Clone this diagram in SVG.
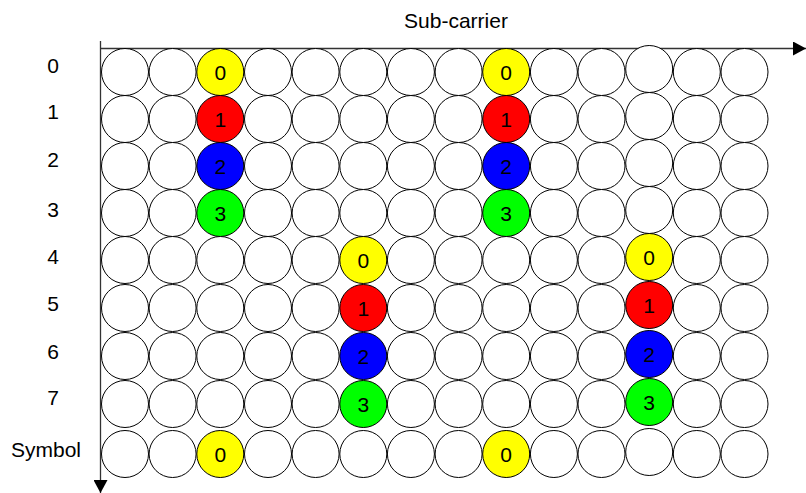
<svg xmlns="http://www.w3.org/2000/svg" width="806" height="493" viewBox="0 0 806 493">
<style>
.c{fill:#fff;stroke:#000;stroke-width:1}
.y{fill:#ffff00;stroke:#000;stroke-width:1}
.r{fill:#ff0000;stroke:#000;stroke-width:1}
.b{fill:#0000ff;stroke:#000;stroke-width:1}
.g{fill:#00ff00;stroke:#000;stroke-width:1}
text{font-family:"Liberation Sans",Arial,sans-serif;font-size:21px;fill:#000}
.m{text-anchor:middle}
.ax{stroke:#333;stroke-width:1.3;fill:none}
</style>
<defs>
<marker id="ah" viewBox="0 0 13 14" refX="13" refY="7" markerWidth="13" markerHeight="14" markerUnits="userSpaceOnUse" orient="auto">
<path d="M0,0 L13,7 L0,14 Z" fill="#000"/>
</marker>
</defs>
<g id="labels">
<text class="m" x="456" y="27.5">Sub-carrier</text>
<text class="m" x="53" y="72.5">0</text>
<text class="m" x="53" y="119">1</text>
<text class="m" x="53" y="167">2</text>
<text class="m" x="53" y="217">3</text>
<text class="m" x="53" y="264">4</text>
<text class="m" x="53" y="311">5</text>
<text class="m" x="53" y="359">6</text>
<text class="m" x="53" y="405">7</text>
<text class="m" x="46" y="456.5">Symbol</text>
</g>
<g id="connectors">
<line class="ax" x1="100" y1="48.5" x2="806" y2="48.5" marker-end="url(#ah)"/>
<line class="ax" x1="100.5" y1="41" x2="100.5" y2="493" marker-end="url(#ah)"/>
</g>
<g id="grid">
<g id="r0">
<circle class="c" cx="125" cy="72" r="23.5"/><circle class="c" cx="172.6" cy="72" r="23.5"/>
<g id="n-0-3"><circle class="y" cx="220.3" cy="72" r="23.5"/><text class="m" x="220.3" y="79.5">0</text></g>
<circle class="c" cx="268" cy="72" r="23.5"/><circle class="c" cx="315.6" cy="72" r="23.5"/><circle class="c" cx="363.3" cy="72" r="23.5"/><circle class="c" cx="410.9" cy="72" r="23.5"/><circle class="c" cx="458.6" cy="72" r="23.5"/>
<g id="n-0-9"><circle class="y" cx="506.2" cy="72" r="23.5"/><text class="m" x="506.2" y="79.5">0</text></g>
<circle class="c" cx="553.9" cy="72" r="23.5"/><circle class="c" cx="601.5" cy="72" r="23.5"/><circle class="c" cx="649.2" cy="69" r="23.5"/><circle class="c" cx="696.8" cy="72" r="23.5"/><circle class="c" cx="744.5" cy="72" r="23.5"/>
</g>
<g id="r1">
<circle class="c" cx="125" cy="119" r="23.5"/><circle class="c" cx="172.6" cy="119" r="23.5"/>
<g id="n-1-3"><circle class="r" cx="220.3" cy="119" r="23.5"/><text class="m" x="220.3" y="126.5">1</text></g>
<circle class="c" cx="268" cy="119" r="23.5"/><circle class="c" cx="315.6" cy="119" r="23.5"/><circle class="c" cx="363.3" cy="119" r="23.5"/><circle class="c" cx="410.9" cy="119" r="23.5"/><circle class="c" cx="458.6" cy="119" r="23.5"/>
<g id="n-1-9"><circle class="r" cx="506.2" cy="119" r="23.5"/><text class="m" x="506.2" y="126.5">1</text></g>
<circle class="c" cx="553.9" cy="119" r="23.5"/><circle class="c" cx="601.5" cy="119" r="23.5"/><circle class="c" cx="649.2" cy="116" r="23.5"/><circle class="c" cx="696.8" cy="119" r="23.5"/><circle class="c" cx="744.5" cy="119" r="23.5"/>
</g>
<g id="r2">
<circle class="c" cx="125" cy="166" r="23.5"/><circle class="c" cx="172.6" cy="166" r="23.5"/>
<g id="n-2-3"><circle class="b" cx="220.3" cy="166" r="23.5"/><text class="m" x="220.3" y="173.5">2</text></g>
<circle class="c" cx="268" cy="166" r="23.5"/><circle class="c" cx="315.6" cy="166" r="23.5"/><circle class="c" cx="363.3" cy="166" r="23.5"/><circle class="c" cx="410.9" cy="166" r="23.5"/><circle class="c" cx="458.6" cy="166" r="23.5"/>
<g id="n-2-9"><circle class="b" cx="506.2" cy="166" r="23.5"/><text class="m" x="506.2" y="173.5">2</text></g>
<circle class="c" cx="553.9" cy="166" r="23.5"/><circle class="c" cx="601.5" cy="166" r="23.5"/><circle class="c" cx="649.2" cy="163" r="23.5"/><circle class="c" cx="696.8" cy="166" r="23.5"/><circle class="c" cx="744.5" cy="166" r="23.5"/>
</g>
<g id="r3">
<circle class="c" cx="125" cy="213" r="23.5"/><circle class="c" cx="172.6" cy="213" r="23.5"/>
<g id="n-3-3"><circle class="g" cx="220.3" cy="213" r="23.5"/><text class="m" x="220.3" y="220.5">3</text></g>
<circle class="c" cx="268" cy="213" r="23.5"/><circle class="c" cx="315.6" cy="213" r="23.5"/><circle class="c" cx="363.3" cy="213" r="23.5"/><circle class="c" cx="410.9" cy="213" r="23.5"/><circle class="c" cx="458.6" cy="213" r="23.5"/>
<g id="n-3-9"><circle class="g" cx="506.2" cy="213" r="23.5"/><text class="m" x="506.2" y="220.5">3</text></g>
<circle class="c" cx="553.9" cy="213" r="23.5"/><circle class="c" cx="601.5" cy="213" r="23.5"/><circle class="c" cx="649.2" cy="210" r="23.5"/><circle class="c" cx="696.8" cy="213" r="23.5"/><circle class="c" cx="744.5" cy="213" r="23.5"/>
</g>
<g id="r4">
<circle class="c" cx="125" cy="260" r="23.5"/><circle class="c" cx="172.6" cy="260" r="23.5"/><circle class="c" cx="220.3" cy="260" r="23.5"/><circle class="c" cx="268" cy="260" r="23.5"/><circle class="c" cx="315.6" cy="260" r="23.5"/>
<g id="n-4-6"><circle class="y" cx="363.3" cy="260" r="23.5"/><text class="m" x="363.3" y="267.5">0</text></g>
<circle class="c" cx="410.9" cy="260" r="23.5"/><circle class="c" cx="458.6" cy="260" r="23.5"/><circle class="c" cx="506.2" cy="260" r="23.5"/><circle class="c" cx="553.9" cy="260" r="23.5"/><circle class="c" cx="601.5" cy="260" r="23.5"/>
<g id="n-4-12"><circle class="y" cx="649.2" cy="257" r="23.5"/><text class="m" x="649.2" y="264.5">0</text></g>
<circle class="c" cx="696.8" cy="260" r="23.5"/><circle class="c" cx="744.5" cy="260" r="23.5"/>
</g>
<g id="r5">
<circle class="c" cx="125" cy="308" r="23.5"/><circle class="c" cx="172.6" cy="308" r="23.5"/><circle class="c" cx="220.3" cy="308" r="23.5"/><circle class="c" cx="268" cy="308" r="23.5"/><circle class="c" cx="315.6" cy="308" r="23.5"/>
<g id="n-5-6"><circle class="r" cx="363.3" cy="308" r="23.5"/><text class="m" x="363.3" y="315.5">1</text></g>
<circle class="c" cx="410.9" cy="308" r="23.5"/><circle class="c" cx="458.6" cy="308" r="23.5"/><circle class="c" cx="506.2" cy="308" r="23.5"/><circle class="c" cx="553.9" cy="308" r="23.5"/><circle class="c" cx="601.5" cy="308" r="23.5"/>
<g id="n-5-12"><circle class="r" cx="649.2" cy="305" r="23.5"/><text class="m" x="649.2" y="312.5">1</text></g>
<circle class="c" cx="696.8" cy="308" r="23.5"/><circle class="c" cx="744.5" cy="308" r="23.5"/>
</g>
<g id="r6">
<circle class="c" cx="125" cy="356" r="23.5"/><circle class="c" cx="172.6" cy="356" r="23.5"/><circle class="c" cx="220.3" cy="356" r="23.5"/><circle class="c" cx="268" cy="356" r="23.5"/><circle class="c" cx="315.6" cy="356" r="23.5"/>
<g id="n-6-6"><circle class="b" cx="363.3" cy="356" r="23.5"/><text class="m" x="363.3" y="363.5">2</text></g>
<circle class="c" cx="410.9" cy="356" r="23.5"/><circle class="c" cx="458.6" cy="356" r="23.5"/><circle class="c" cx="506.2" cy="356" r="23.5"/><circle class="c" cx="553.9" cy="356" r="23.5"/><circle class="c" cx="601.5" cy="356" r="23.5"/>
<g id="n-6-12"><circle class="b" cx="649.2" cy="354" r="23.5"/><text class="m" x="649.2" y="361.5">2</text></g>
<circle class="c" cx="696.8" cy="356" r="23.5"/><circle class="c" cx="744.5" cy="356" r="23.5"/>
</g>
<g id="r7">
<circle class="c" cx="125" cy="404" r="23.5"/><circle class="c" cx="172.6" cy="404" r="23.5"/><circle class="c" cx="220.3" cy="404" r="23.5"/><circle class="c" cx="268" cy="404" r="23.5"/><circle class="c" cx="315.6" cy="404" r="23.5"/>
<g id="n-7-6"><circle class="g" cx="363.3" cy="404" r="23.5"/><text class="m" x="363.3" y="411.5">3</text></g>
<circle class="c" cx="410.9" cy="404" r="23.5"/><circle class="c" cx="458.6" cy="404" r="23.5"/><circle class="c" cx="506.2" cy="404" r="23.5"/><circle class="c" cx="553.9" cy="404" r="23.5"/><circle class="c" cx="601.5" cy="404" r="23.5"/>
<g id="n-7-12"><circle class="g" cx="649.2" cy="402" r="23.5"/><text class="m" x="649.2" y="409.5">3</text></g>
<circle class="c" cx="696.8" cy="404" r="23.5"/><circle class="c" cx="744.5" cy="404" r="23.5"/>
</g>
<g id="r8">
<circle class="c" cx="125" cy="454" r="23.5"/><circle class="c" cx="172.6" cy="454" r="23.5"/>
<g id="n-8-3"><circle class="y" cx="220.3" cy="454" r="23.5"/><text class="m" x="220.3" y="461.5">0</text></g>
<circle class="c" cx="268" cy="454" r="23.5"/><circle class="c" cx="315.6" cy="454" r="23.5"/><circle class="c" cx="363.3" cy="454" r="23.5"/><circle class="c" cx="410.9" cy="454" r="23.5"/><circle class="c" cx="458.6" cy="454" r="23.5"/>
<g id="n-8-9"><circle class="y" cx="506.2" cy="454" r="23.5"/><text class="m" x="506.2" y="461.5">0</text></g>
<circle class="c" cx="553.9" cy="454" r="23.5"/><circle class="c" cx="601.5" cy="454" r="23.5"/><circle class="c" cx="649.2" cy="452" r="23.5"/><circle class="c" cx="696.8" cy="454" r="23.5"/><circle class="c" cx="744.5" cy="454" r="23.5"/>
</g>
</g>
</svg>
